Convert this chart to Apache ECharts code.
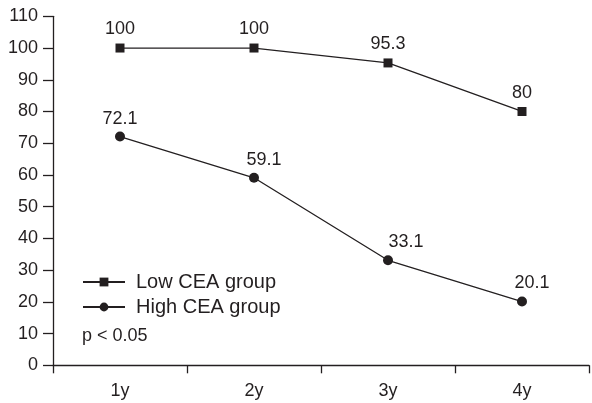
<!DOCTYPE html>
<html>
<head>
<meta charset="utf-8">
<script src="https://cdn.jsdelivr.net/npm/echarts@6/dist/echarts.min.js"></script>
<style>html,body{margin:0;padding:0;background:#fff}#c{width:592px;height:403px}</style>
</head>
<body>
<div id="c"></div>
<script>
var categories = ['1y', '2y', '3y', '4y'];
var lowCEA = [100, 100, 95.3, 80];
var highCEA = [72.1, 59.1, 33.1, 20.1];
var seriesNames = ['Low CEA group', 'High CEA group'];
var yTicks = [0, 10, 20, 30, 40, 50, 60, 70, 80, 90, 100, 110];

var ink = '#231f20';
var font = 'Liberation Sans, Arial, sans-serif';
var highOffsets = [[0, 0], [10, 0], [18, 0], [10, 0]];

var chart = echarts.init(document.getElementById('c'), null, {renderer: 'canvas'});
chart.setOption({
  animation: false,
  backgroundColor: '#fff',
  grid: {left: 53, right: 3, top: 16.3, bottom: 37.7},
  xAxis: {
    type: 'category',
    data: categories,
    boundaryGap: true,
    axisLine: {lineStyle: {color: ink, width: 1.3}},
    axisTick: {show: true, length: 8, lineStyle: {color: ink, width: 1.3}},
    axisLabel: {color: ink, fontSize: 18, fontFamily: font, margin: 17}
  },
  yAxis: {
    type: 'value',
    min: yTicks[0],
    max: yTicks[yTicks.length - 1],
    interval: 10,
    splitLine: {show: false},
    axisLine: {show: true, lineStyle: {color: ink, width: 1.3}},
    axisTick: {show: true, length: 10, lineStyle: {color: ink, width: 1.3}},
    axisLabel: {color: ink, fontSize: 18, fontFamily: font, margin: 15}
  },
  legend: {
    orient: 'vertical',
    left: 77,
    top: 267,
    itemWidth: 42,
    itemHeight: 11,
    itemGap: 5,
    textStyle: {color: ink, fontSize: 20, fontFamily: font, padding: [0, 0, 0, 6]},
    data: seriesNames
  },
  graphic: [{
    type: 'text',
    left: 82,
    top: 327,
    style: {text: 'p < 0.05', fill: ink, font: '18px ' + font}
  }],
  series: [{
    name: seriesNames[0],
    type: 'line',
    data: lowCEA,
    symbol: 'rect',
    symbolSize: 9,
    lineStyle: {color: ink, width: 1.3},
    itemStyle: {color: ink},
    label: {show: true, position: 'top', distance: 5, color: ink, fontSize: 18, fontFamily: font}
  }, {
    name: seriesNames[1],
    type: 'line',
    data: highCEA.map(function (v, i) {
      return {value: v, label: {offset: highOffsets[i]}};
    }),
    symbol: 'circle',
    symbolSize: 10,
    lineStyle: {color: ink, width: 1.3},
    itemStyle: {color: ink},
    label: {show: true, position: 'top', distance: 4, color: ink, fontSize: 18, fontFamily: font}
  }]
});
</script>
</body>
</html>
